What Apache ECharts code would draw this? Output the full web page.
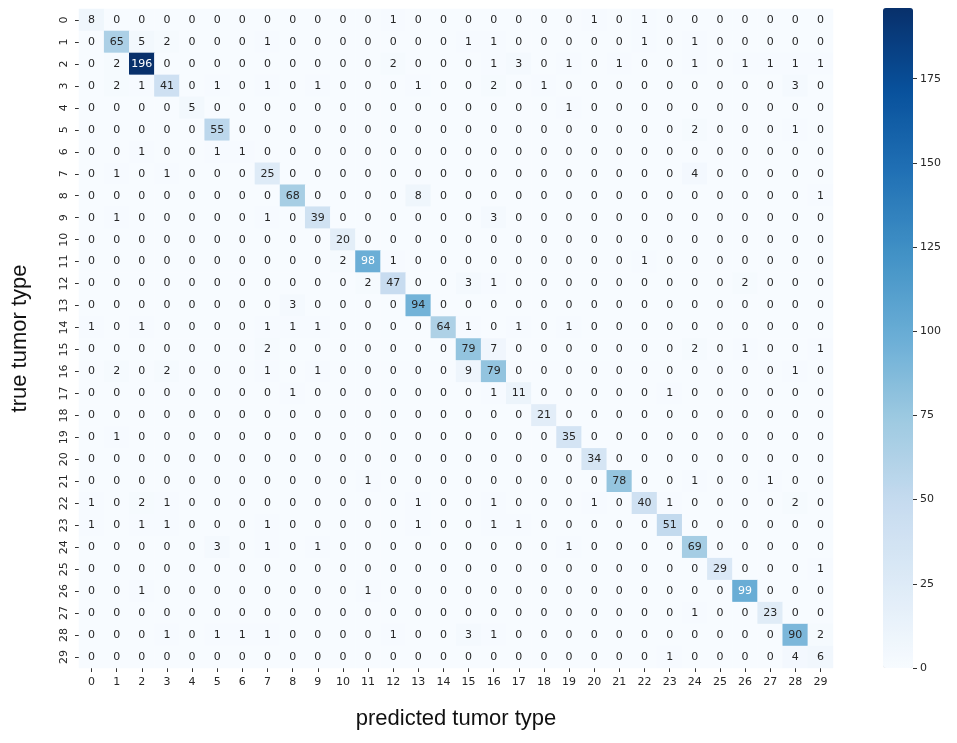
<!DOCTYPE html>
<html><head><meta charset="utf-8">
<script src="https://cdn.jsdelivr.net/npm/echarts@6/dist/echarts.min.js"></script>
<style>html,body{margin:0;padding:0;background:#fff}#c{width:957px;height:743px}</style>
</head><body><div id="c"></div>
<script>
const categories = Array.from({length:30},(_, i)=>String(i));
const row00=[8,0,0,0,0,0,0,0,0,0,0,0,1,0,0,0,0,0,0,0,1,0,1,0,0,0,0,0,0,0];
const row01=[0,65,5,2,0,0,0,1,0,0,0,0,0,0,0,1,1,0,0,0,0,0,1,0,1,0,0,0,0,0];
const row02=[0,2,196,0,0,0,0,0,0,0,0,0,2,0,0,0,1,3,0,1,0,1,0,0,1,0,1,1,1,1];
const row03=[0,2,1,41,0,1,0,1,0,1,0,0,0,1,0,0,2,0,1,0,0,0,0,0,0,0,0,0,3,0];
const row04=[0,0,0,0,5,0,0,0,0,0,0,0,0,0,0,0,0,0,0,1,0,0,0,0,0,0,0,0,0,0];
const row05=[0,0,0,0,0,55,0,0,0,0,0,0,0,0,0,0,0,0,0,0,0,0,0,0,2,0,0,0,1,0];
const row06=[0,0,1,0,0,1,1,0,0,0,0,0,0,0,0,0,0,0,0,0,0,0,0,0,0,0,0,0,0,0];
const row07=[0,1,0,1,0,0,0,25,0,0,0,0,0,0,0,0,0,0,0,0,0,0,0,0,4,0,0,0,0,0];
const row08=[0,0,0,0,0,0,0,0,68,0,0,0,0,8,0,0,0,0,0,0,0,0,0,0,0,0,0,0,0,1];
const row09=[0,1,0,0,0,0,0,1,0,39,0,0,0,0,0,0,3,0,0,0,0,0,0,0,0,0,0,0,0,0];
const row10=[0,0,0,0,0,0,0,0,0,0,20,0,0,0,0,0,0,0,0,0,0,0,0,0,0,0,0,0,0,0];
const row11=[0,0,0,0,0,0,0,0,0,0,2,98,1,0,0,0,0,0,0,0,0,0,1,0,0,0,0,0,0,0];
const row12=[0,0,0,0,0,0,0,0,0,0,0,2,47,0,0,3,1,0,0,0,0,0,0,0,0,0,2,0,0,0];
const row13=[0,0,0,0,0,0,0,0,3,0,0,0,0,94,0,0,0,0,0,0,0,0,0,0,0,0,0,0,0,0];
const row14=[1,0,1,0,0,0,0,1,1,1,0,0,0,0,64,1,0,1,0,1,0,0,0,0,0,0,0,0,0,0];
const row15=[0,0,0,0,0,0,0,2,0,0,0,0,0,0,0,79,7,0,0,0,0,0,0,0,2,0,1,0,0,1];
const row16=[0,2,0,2,0,0,0,1,0,1,0,0,0,0,0,9,79,0,0,0,0,0,0,0,0,0,0,0,1,0];
const row17=[0,0,0,0,0,0,0,0,1,0,0,0,0,0,0,0,1,11,0,0,0,0,0,1,0,0,0,0,0,0];
const row18=[0,0,0,0,0,0,0,0,0,0,0,0,0,0,0,0,0,0,21,0,0,0,0,0,0,0,0,0,0,0];
const row19=[0,1,0,0,0,0,0,0,0,0,0,0,0,0,0,0,0,0,0,35,0,0,0,0,0,0,0,0,0,0];
const row20=[0,0,0,0,0,0,0,0,0,0,0,0,0,0,0,0,0,0,0,0,34,0,0,0,0,0,0,0,0,0];
const row21=[0,0,0,0,0,0,0,0,0,0,0,1,0,0,0,0,0,0,0,0,0,78,0,0,1,0,0,1,0,0];
const row22=[1,0,2,1,0,0,0,0,0,0,0,0,0,1,0,0,1,0,0,0,1,0,40,1,0,0,0,0,2,0];
const row23=[1,0,1,1,0,0,0,1,0,0,0,0,0,1,0,0,1,1,0,0,0,0,0,51,0,0,0,0,0,0];
const row24=[0,0,0,0,0,3,0,1,0,1,0,0,0,0,0,0,0,0,0,1,0,0,0,0,69,0,0,0,0,0];
const row25=[0,0,0,0,0,0,0,0,0,0,0,0,0,0,0,0,0,0,0,0,0,0,0,0,0,29,0,0,0,1];
const row26=[0,0,1,0,0,0,0,0,0,0,0,1,0,0,0,0,0,0,0,0,0,0,0,0,0,0,99,0,0,0];
const row27=[0,0,0,0,0,0,0,0,0,0,0,0,0,0,0,0,0,0,0,0,0,0,0,0,1,0,0,23,0,0];
const row28=[0,0,0,1,0,1,1,1,0,0,0,0,1,0,0,3,1,0,0,0,0,0,0,0,0,0,0,0,90,2];
const row29=[0,0,0,0,0,0,0,0,0,0,0,0,0,0,0,0,0,0,0,0,0,0,0,1,0,0,0,0,4,6];
const matrix=[row00,row01,row02,row03,row04,row05,row06,row07,row08,row09,row10,row11,row12,row13,row14,row15,row16,row17,row18,row19,row20,row21,row22,row23,row24,row25,row26,row27,row28,row29];
const colorbarTicks=[0,25,50,75,100,125,150,175];
const vmax=196;

const data=[];
matrix.forEach((row,r)=>row.forEach((v,c)=>{
  data.push({value:[c,r,v],label:{color: v>=95?'#ffffff':'#262626'}});
}));

const chart=echarts.init(document.getElementById('c'),null,{renderer:'canvas'});
chart.setOption({
  animation:false,
  backgroundColor:'#ffffff',
  grid:[
    {left:79,top:9,width:754,height:659},
    {left:883,top:8,width:30,height:660}
  ],
  xAxis:[
    {type:'category',data:categories,gridIndex:0,position:'bottom',
     axisLine:{show:false},splitLine:{show:false},
     axisTick:{show:true,alignWithLabel:true,length:4,lineStyle:{color:'#333'}},
     axisLabel:{color:'#262626',fontSize:11,fontFamily:'DejaVu Sans',margin:9},
     name:'predicted tumor type',nameLocation:'middle',nameGap:40,
     nameTextStyle:{fontSize:22,color:'#111',fontFamily:'Liberation Sans'}},
    {type:'value',gridIndex:1,show:false,min:0,max:1}
  ],
  yAxis:[
    {type:'category',data:categories,gridIndex:0,inverse:true,
     axisLine:{show:false},splitLine:{show:false},
     axisTick:{show:true,alignWithLabel:true,length:4,lineStyle:{color:'#333'}},
     axisLabel:{color:'#262626',fontSize:11,fontFamily:'DejaVu Sans',rotate:90,margin:9},
     name:'true tumor type',nameLocation:'middle',nameGap:48,nameRotate:90,
     nameTextStyle:{fontSize:22,color:'#111',fontFamily:'Liberation Sans'}},
    {type:'value',gridIndex:1,min:0,max:vmax,position:'right',z:20,
     axisLine:{show:false,onZero:false},splitLine:{show:false},
     axisTick:{show:true,length:4,lineStyle:{color:'#333',width:1},customValues:colorbarTicks},
     axisLabel:{color:'#262626',fontSize:11,fontFamily:'DejaVu Sans',margin:7,customValues:colorbarTicks}}
  ],
  visualMap:{
    type:'continuous',min:0,max:vmax,calculable:false,show:true,z:1,
    orient:'vertical',left:883,top:8,itemWidth:30,itemHeight:660,
    showLabel:false,padding:0,seriesIndex:0,
    inRange:{color:['#f7fbff','#deebf7','#c6dbef','#9ecae1','#6baed6','#4292c6','#2171b5','#08519c','#08306b']}
  },
  series:[{
    type:'heatmap',xAxisIndex:0,yAxisIndex:0,data:data,
    label:{show:true,fontSize:11,fontFamily:'DejaVu Sans'},
    itemStyle:{borderWidth:0},
    emphasis:{disabled:true}
  }]
});
</script></body></html>
